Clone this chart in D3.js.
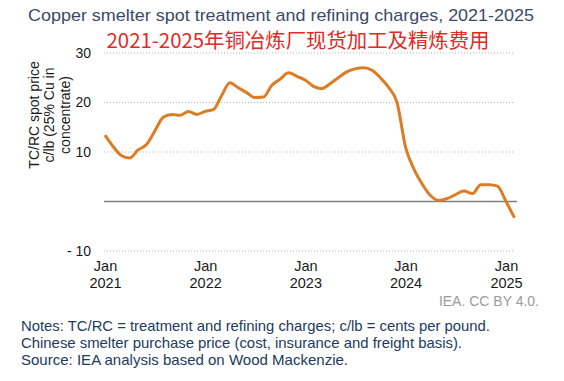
<!DOCTYPE html>
<html>
<head>
<meta charset="utf-8">
<script src="https://cdn.jsdelivr.net/npm/d3@7"></script>
<style>
  body { margin: 0; background: #fff; }
  svg { display: block; font-family: "Liberation Sans", Arial, sans-serif; }
</style>
</head>
<body>
<script>
// chart data (c/lb), monthly Jan 2021 - Feb 2025
const startMonth = "2021-01";
const tcrc = [
  13.4, 11.0, 9.3, 8.8, 10.4, 11.5, 14.2, 17.0, 17.6, 17.4, 18.2, 17.6,   // 2021
  18.2, 18.6, 21.3, 24.0, 23.0, 22.0, 21.0, 21.1, 23.5, 24.7, 26.0, 25.3, // 2022
  24.5, 23.2, 22.8, 23.8, 25.0, 26.2, 26.8, 27.0, 26.5, 25.0, 23.0, 20.0, // 2023
  11.0, 6.5, 3.6, 1.2, 0.2, 0.6, 1.4, 2.1, 1.6, 3.4, 3.4, 3.1,            // 2024
  0.0, -3.3                                                              // 2025
];
const yTicks = [30, 20, 10, 0, -10];
const yTickLabels = ["30", "20", "10", "", "- 10"];
const xTickYears = [2021, 2022, 2023, 2024, 2025];

const title = "Copper smelter spot treatment and refining charges, 2021-2025";
const subtitle = "2021-2025年铜冶炼厂现货加工及精炼费用";
const yTitle = ["TC/RC spot price", "c/lb (25% Cu in", "concentrate)"];
const credit = "IEA. CC BY 4.0.";
const notes = [
  "Notes: TC/RC = treatment and refining charges; c/lb = cents per pound.",
  "Chinese smelter purchase price (cost, insurance and freight basis).",
  "Source: IEA analysis based on Wood Mackenzie."
];
const notesWidths = [469, 441, 327];

const width = 564, height = 381;
const parseMonth = d3.timeParse("%Y-%m");
const t0 = parseMonth(startMonth);
const data = tcrc.map((v, i) => ({ date: d3.timeMonth.offset(t0, i), value: v }));

const svg = d3.select("body").append("svg")
  .attr("width", width)
  .attr("height", height);

// scales
const xScale = d3.scaleTime()
  .domain([new Date(2021, 0, 1), new Date(2025, 0, 1)])
  .range([105, 506]);
const yScale = d3.scaleLinear()
  .domain([-10, 30])
  .range([251, 53]);

// titles
svg.append("text")
  .attr("x", 281).attr("y", 21)
  .attr("text-anchor", "middle")
  .attr("font-size", 17)
  .attr("fill", "#3b4a6b")
  .attr("textLength", 506).attr("lengthAdjust", "spacingAndGlyphs")
  .text(title);

svg.append("text")
  .attr("x", 298).attr("y", 48)
  .attr("text-anchor", "middle")
  .attr("font-family", "'Noto Sans CJK SC', sans-serif")
  .attr("font-size", 20)
  .attr("fill", "#e02a25")
  .attr("textLength", 383).attr("lengthAdjust", "spacingAndGlyphs")
  .text(subtitle);

// gridlines
svg.append("g")
  .selectAll("line")
  .data(yTicks)
  .join("line")
  .attr("x1", 104).attr("x2", d => d === 0 ? 517 : 515)
  .attr("y1", d => yScale(d)).attr("y2", d => yScale(d))
  .attr("stroke", d => d === 0 ? "#7f7f7f" : "#b5b5b5")
  .attr("stroke-width", d => d === 0 ? 1.5 : 1)
  .attr("stroke-dasharray", d => d === 0 ? null : "1,2");

// y axis labels
const leftAxis = d3.axisLeft(yScale)
  .tickValues(yTicks)
  .tickSize(0)
  .tickPadding(0)
  .tickFormat((d, i) => yTickLabels[i]);
const gy = svg.append("g")
  .attr("transform", "translate(91,0)")
  .call(leftAxis);
gy.select(".domain").remove();
gy.selectAll("text")
  .attr("font-size", 14)
  .attr("font-family", "'Liberation Sans', Arial, sans-serif")
  .attr("fill", "#1a1a1a");

// y axis title
const yt = svg.append("text")
  .attr("transform", "translate(49,115) rotate(-90)")
  .attr("text-anchor", "middle")
  .attr("font-size", 14)
  .attr("fill", "#1a1a1a");
yt.selectAll("tspan")
  .data(yTitle)
  .join("tspan")
  .attr("x", 0)
  .attr("y", (d, i) => (i - 1) * 15.5 + 5)
  .text(d => d);

// x axis labels, two lines each
const bottomAxis = d3.axisBottom(xScale)
  .tickValues(xTickYears.map(y => new Date(y, 0, 1)))
  .tickSize(0)
  .tickFormat("");
const gx = svg.append("g")
  .attr("transform", "translate(0,255)")
  .call(bottomAxis);
gx.select(".domain").remove();
gx.selectAll(".tick text").each(function (d) {
  const t = d3.select(this)
    .attr("y", null)
    .attr("dy", null)
    .attr("font-size", 14.5)
    .attr("font-family", "'Liberation Sans', Arial, sans-serif")
    .attr("fill", "#1a1a1a");
  t.append("tspan").attr("x", 0).attr("y", 16).text("Jan");
  t.append("tspan").attr("x", 0).attr("y", 33).text(d.getFullYear());
});

// line
const line = d3.line()
  .x(d => xScale(d.date))
  .y(d => yScale(d.value))
  .curve(d3.curveMonotoneX);
svg.append("path")
  .datum(data)
  .attr("fill", "none")
  .attr("stroke", "#dc7d25")
  .attr("stroke-width", 3)
  .attr("stroke-linejoin", "round")
  .attr("d", line);

// credit
svg.append("text")
  .attr("x", 539).attr("y", 306)
  .attr("text-anchor", "end")
  .attr("font-size", 14)
  .attr("fill", "#9b9b9b")
  .text(credit);

// notes
svg.append("g")
  .selectAll("text")
  .data(notes)
  .join("text")
  .attr("x", 21)
  .attr("y", (d, i) => 331 + i * 17)
  .attr("font-size", 14.5)
  .attr("fill", "#213b60")
  .attr("textLength", (d, i) => notesWidths[i])
  .attr("lengthAdjust", "spacingAndGlyphs")
  .text(d => d);
</script>
</body>
</html>
